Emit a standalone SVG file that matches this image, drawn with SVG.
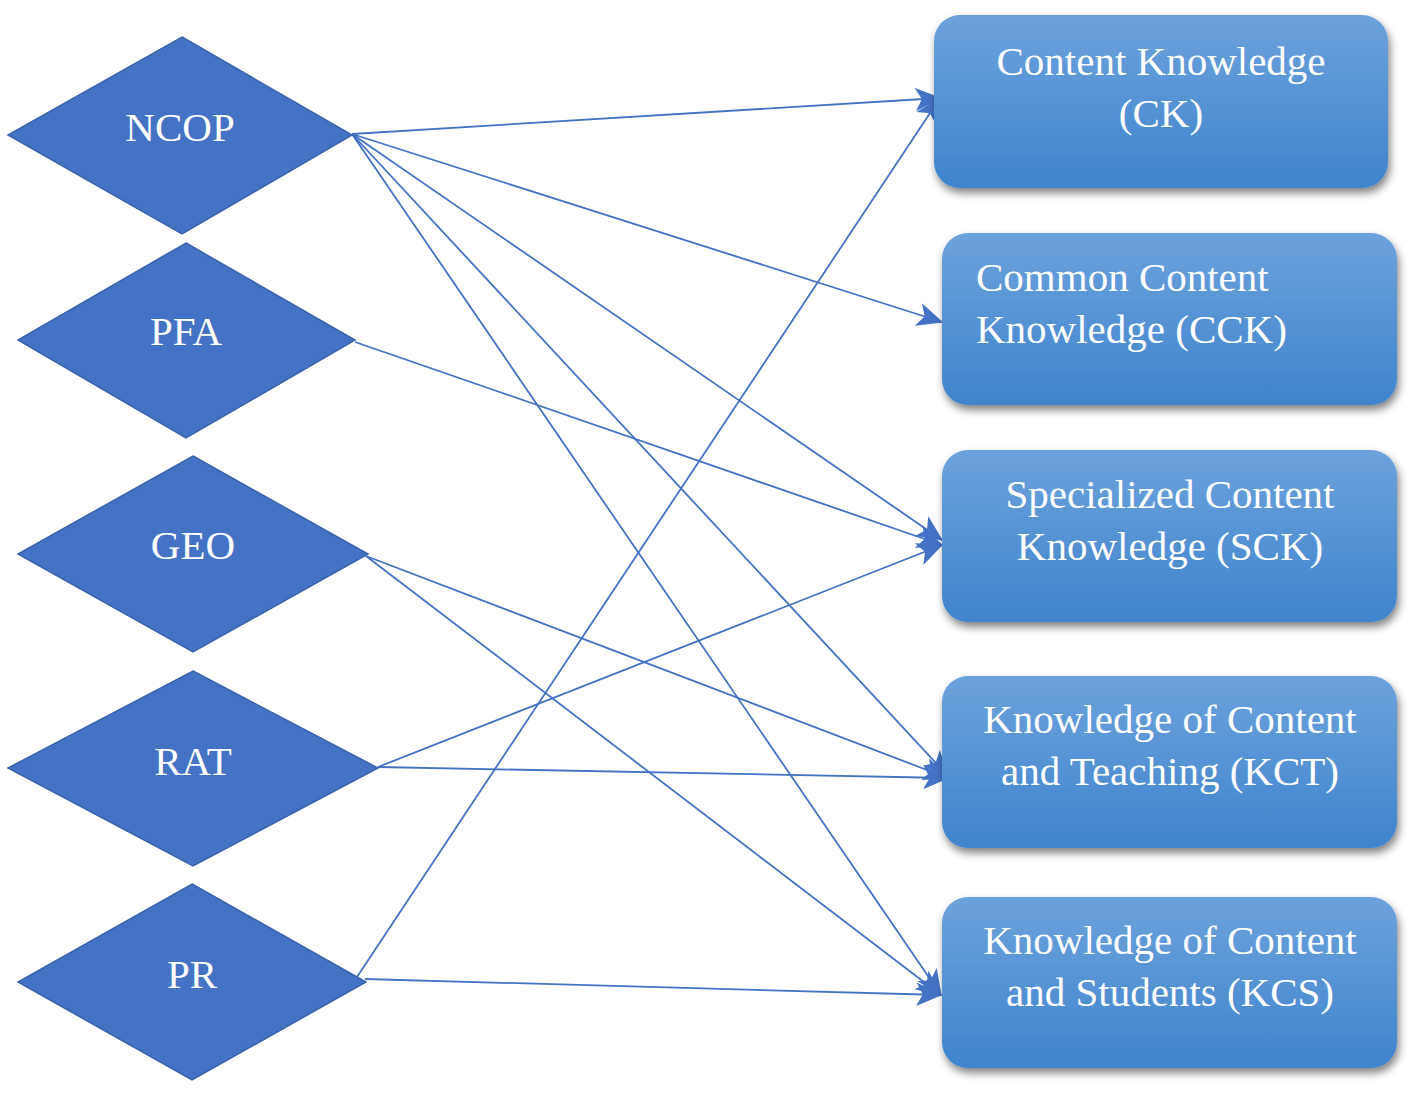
<svg xmlns="http://www.w3.org/2000/svg" width="1418" height="1094" viewBox="0 0 1418 1094">
<defs>
<linearGradient id="bg" x1="0" y1="0" x2="0" y2="1">
<stop offset="0" stop-color="#6ca2dc"/>
<stop offset="1" stop-color="#3f84cd"/>
</linearGradient>
<filter id="sh" x="-10%" y="-10%" width="125%" height="135%">
<feGaussianBlur in="SourceAlpha" stdDeviation="4"/>
<feOffset dx="2" dy="5" result="b"/>
<feComponentTransfer><feFuncA type="linear" slope="0.5"/></feComponentTransfer>
<feMerge><feMergeNode/><feMergeNode in="SourceGraphic"/></feMerge>
</filter>
<marker id="arr" viewBox="0 0 20 20" refX="19" refY="10" markerWidth="26" markerHeight="26" orient="auto" markerUnits="userSpaceOnUse">
<path d="M0,1 L20,10 L0,19 L5,10 z" fill="#4472c4"/>
</marker>
</defs>
<style>
.dia{fill:#4472c4;stroke:#3a63ad;stroke-width:1.5}
.box{fill:url(#bg);filter:url(#sh)}
.t{font-family:"Liberation Serif","Times New Roman",serif;font-size:41px;fill:#ffffff}
.c{text-anchor:middle}
.ln{stroke:#4472c4;stroke-width:1.8;fill:none;marker-end:url(#arr)}
</style>
<rect width="1418" height="1094" fill="#ffffff"/>
<g id="connectors">
<line class="ln" x1="352" y1="134" x2="940" y2="98"/>
<line class="ln" x1="352" y1="134" x2="942" y2="322"/>
<line class="ln" x1="352" y1="134" x2="942" y2="540"/>
<line class="ln" x1="352" y1="134" x2="948" y2="776"/>
<line class="ln" x1="352" y1="134" x2="941" y2="995"/>
<line class="ln" x1="355" y1="342" x2="942" y2="545"/>
<line class="ln" x1="366" y1="556" x2="948" y2="778"/>
<line class="ln" x1="366" y1="556" x2="941" y2="995"/>
<line class="ln" x1="378" y1="767" x2="942" y2="545"/>
<line class="ln" x1="378" y1="767" x2="948" y2="778"/>
<line class="ln" x1="357" y1="977" x2="940" y2="98"/>
<line class="ln" x1="365" y1="979" x2="941" y2="995"/>
</g>
<g id="NCOP"><polygon class="dia" points="182,37 352,135 182,234 8,135"/><text class="t c" x="180" y="141">NCOP</text></g>
<g id="PFA"><polygon class="dia" points="186,243 355,340 186,438 18,340"/><text class="t c" x="186" y="345">PFA</text></g>
<g id="GEO"><polygon class="dia" points="193,456 368,554 193,652 18,554"/><text class="t c" x="193" y="559">GEO</text></g>
<g id="RAT"><polygon class="dia" points="193,671 378,768 193,866 8,768"/><text class="t c" x="193" y="775">RAT</text></g>
<g id="PR"><polygon class="dia" points="192,884 366,982 192,1080 18,982"/><text class="t c" x="192" y="988">PR</text></g>
<g id="CK"><rect class="box" x="934" y="15" width="454" height="173" rx="26"/><text class="t c" x="1161" y="75">Content Knowledge</text><text class="t c" x="1161" y="127">(CK)</text></g>
<g id="CCK"><rect class="box" x="942" y="233" width="455" height="172" rx="26"/><text class="t" x="976" y="291">Common Content</text><text class="t" x="976" y="343">Knowledge (CCK)</text></g>
<g id="SCK"><rect class="box" x="942" y="450" width="455" height="172" rx="26"/><text class="t c" x="1170" y="508">Specialized Content</text><text class="t c" x="1170" y="560">Knowledge (SCK)</text></g>
<g id="KCT"><rect class="box" x="942" y="676" width="455" height="172" rx="26"/><text class="t c" x="1170" y="733">Knowledge of Content</text><text class="t c" x="1170" y="785">and Teaching (KCT)</text></g>
<g id="KCS"><rect class="box" x="942" y="897" width="455" height="171" rx="26"/><text class="t c" x="1170" y="954">Knowledge of Content</text><text class="t c" x="1170" y="1006">and Students (KCS)</text></g>
</svg>
